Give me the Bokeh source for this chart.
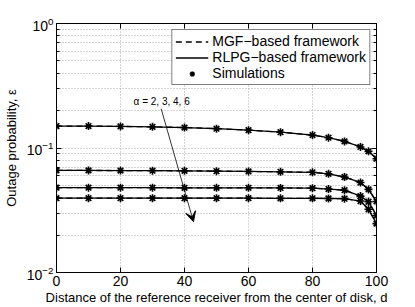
from bokeh.plotting import figure
from bokeh.models import (LogAxis, LinearAxis, Legend, LegendItem, Arrow, VeeHead,
                          Label, FixedTicker, LogTickFormatter, CustomJSTickFormatter)
from bokeh.embed import file_html
from bokeh.resources import INLINE

# ---- data ----
d = [0, 10, 20, 30, 40, 50, 60, 70, 80, 85, 90, 95, 97.5, 100]
eps_alpha2 = [0.150, 0.150, 0.149, 0.148, 0.146, 0.143, 0.139, 0.134, 0.127, 0.121, 0.113, 0.102, 0.094, 0.082]
eps_alpha3 = [0.066, 0.066, 0.0659, 0.0658, 0.0656, 0.0652, 0.0648, 0.0644, 0.0638, 0.0620, 0.0585, 0.0528, 0.0465, 0.0372]
eps_alpha4 = [0.0480, 0.0480, 0.0480, 0.0480, 0.0479, 0.0479, 0.0479, 0.0478, 0.0476, 0.0468, 0.0458, 0.0411, 0.0370, 0.0287]
eps_alpha6 = [0.0395, 0.0395, 0.0395, 0.0395, 0.0395, 0.0395, 0.0395, 0.0394, 0.0394, 0.0393, 0.0392, 0.0375, 0.0322, 0.0247]
series = [eps_alpha2, eps_alpha3, eps_alpha4, eps_alpha6]

x_ticks = [0, 20, 40, 60, 80, 100]
y_ticks = [0.01, 0.1, 1]
y_minor_ticks = [0.02, 0.03, 0.04, 0.05, 0.06, 0.07, 0.08, 0.09,
                 0.2, 0.3, 0.4, 0.5, 0.6, 0.7, 0.8, 0.9]
legend_labels = ["MGF\u2212based framework", "RLPG\u2212based framework", "Simulations"]
annotation_text = "\u03b1 = 2, 3, 4, 6"
x_label = "Distance of the reference receiver from the center of disk, d"
y_label = "Outage probability, \u03b5"

FONT = "Liberation Sans"
GRID = "#a8a8a8"

p = figure(width=415, height=307, x_range=(0, 100), y_range=(0.01, 1),
           y_axis_type="log", output_backend="svg", toolbar_location=None,
           min_border_left=54, min_border_right=39, min_border_top=23,
           min_border_bottom=35)
p.outline_line_color = "black"
p.background_fill_color = "white"
p.border_fill_color = "white"

# axes
p.xaxis.ticker = FixedTicker(ticks=x_ticks)
p.yaxis.ticker = FixedTicker(ticks=y_ticks, minor_ticks=y_minor_ticks)
p.yaxis.formatter = LogTickFormatter()
for ax in (p.xaxis[0], p.yaxis[0]):
    ax.axis_line_color = "black"
    ax.major_tick_in = 5
    ax.major_tick_out = 0
    ax.minor_tick_in = 3
    ax.minor_tick_out = 0
    ax.major_label_text_font = FONT
    ax.major_label_text_font_size = "14px"
    ax.major_label_text_color = "black"
    ax.axis_label_text_font = FONT
    ax.axis_label_text_font_size = "13px"
    ax.axis_label_text_font_style = "normal"
    ax.axis_label_text_color = "black"
p.xaxis.axis_label = x_label
p.yaxis.axis_label = y_label
p.xaxis.major_label_standoff = 3
p.xaxis.axis_label_standoff = 1
p.yaxis.major_label_standoff = 3
p.yaxis.axis_label_standoff = 5

blank = CustomJSTickFormatter(code="return ''")
top = LinearAxis(ticker=FixedTicker(ticks=x_ticks), formatter=blank,
                 major_tick_in=5, major_tick_out=0, major_label_standoff=0,
                 axis_line_color="black")
right = LogAxis(ticker=FixedTicker(ticks=y_ticks, minor_ticks=y_minor_ticks), formatter=blank,
                major_tick_in=5, major_tick_out=0, minor_tick_in=3, minor_tick_out=0,
                major_label_standoff=0, axis_line_color="black")
p.add_layout(top, "above")
p.add_layout(right, "right")

# grids
p.xgrid.grid_line_color = GRID
p.xgrid.grid_line_dash = "1 2"
p.ygrid.grid_line_color = GRID
p.ygrid.grid_line_dash = "1 2"
p.ygrid.minor_grid_line_color = GRID
p.ygrid.minor_grid_line_dash = "1 2"

# data
mgf, rlpg, sim = [], [], []
for s in series:
    mgf.append(p.line(d, s, line_color="black", line_width=1.3, line_dash="6 4"))
    rlpg.append(p.line(d, s, line_color="black", line_width=1.3))
    sim.append(p.scatter(d, s, marker="asterisk", size=8, line_color="black", line_width=1.6))

legend = Legend(items=[LegendItem(label=legend_labels[0], renderers=[mgf[0]]),
                       LegendItem(label=legend_labels[1], renderers=[rlpg[0]]),
                       LegendItem(label=legend_labels[2], renderers=[sim[0]])],
                location="top_right")
legend.label_text_font = FONT
legend.label_text_font_size = "14px"
legend.label_text_color = "black"
legend.glyph_width = 33
legend.glyph_height = 13
legend.label_standoff = 4
legend.label_height = 13
legend.spacing = 0
legend.padding = 3
legend.margin = 6
legend.border_line_color = "black"
legend.border_line_width = 1
legend.background_fill_alpha = 1
p.add_layout(legend)

# annotation
p.add_layout(Arrow(x_start=32.7, y_start=0.207, x_end=42.8, y_end=0.0256,
                   line_color="black", line_width=0.8,
                   end=VeeHead(size=10, fill_color="black", line_color="black")))
p.add_layout(Label(x=24.1, y=0.236, text=annotation_text, text_font=FONT,
                   text_font_size="10px", text_baseline="middle", text_color="black"))

open("out.html", "w").write(file_html(p, INLINE))
